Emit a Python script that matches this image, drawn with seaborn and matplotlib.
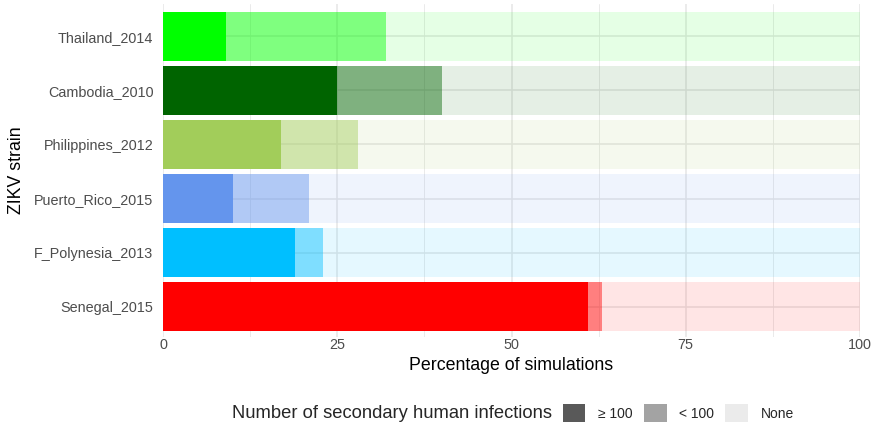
import matplotlib
matplotlib.use("Agg")
import matplotlib.pyplot as plt
import seaborn as sns
import pandas as pd
import numpy as np
from matplotlib.patches import Patch

strains = ["Thailand_2014", "Cambodia_2010", "Philippines_2012",
           "Puerto_Rico_2015", "F_Polynesia_2013", "Senegal_2015"]
pct_ge100 = [9, 25, 17, 10, 19, 61]
pct_lt100 = [23, 15, 11, 11, 4, 2]
pct_none = [68, 60, 72, 79, 77, 37]
strain_colors = ["#00FF00", "#006400", "#A2CD5A", "#6495ED", "#00BFFF", "#FF0000"]
legend_labels = ["\u2265 100", "< 100", "None"]
legend_colors = ["#595959", "#A3A3A3", "#EBEBEB"]
xticks = [0, 25, 50, 75, 100]

sns.set_theme(style="white")
plt.rcParams["font.family"] = ["Liberation Sans", "DejaVu Sans"]

df = pd.DataFrame({"strain": strains, "ge": pct_ge100, "lt": pct_lt100, "none": pct_none})
df["cum_lt"] = df["ge"] + df["lt"]
df["total"] = df["cum_lt"] + df["none"]
pal = dict(zip(strains, strain_colors))

fig = plt.figure(figsize=(8.74, 4.25), dpi=100)
top_px, bot_px = 4, 337
ax = fig.add_axes([163 / 874, 1 - bot_px / 425, (860 - 163) / 874, (bot_px - top_px) / 425])

common = dict(y="strain", hue="strain", palette=pal, order=strains, hue_order=strains,
              width=0.9, saturation=1, legend=False, linewidth=0, ax=ax, orient="h")
sns.barplot(data=df, x="total", alpha=0.1, **common)
sns.barplot(data=df, x="cum_lt", alpha=0.445, **common)
sns.barplot(data=df, x="ge", alpha=1.0, **common)

# bars span 12..331 px for 5.9 units
ppu = (331 - 12) / 5.9
ax.set_xlim(0, 100)
ax.set_ylim(5.45 + (bot_px - 331) / ppu, -0.45 - (12 - top_px) / ppu)
ax.set_xticks(xticks)
ax.set_xticklabels([str(t) for t in xticks])
ax.set_xticks([12.5, 37.5, 62.5, 87.5], minor=True)
ax.set_axisbelow(True)
ax.grid(True, which="major", axis="both", color="#E6E6E6", linewidth=1.1)
ax.grid(True, which="minor", axis="x", color="#E6E6E6", linewidth=0.6)
for s in ax.spines.values():
    s.set_visible(False)
ax.tick_params(axis="both", which="both", length=0, labelsize=10.4, labelcolor="#4D4D4D")
ax.tick_params(axis="x", pad=1.0)
ax.tick_params(axis="y", pad=7.0)
ax.set_xlabel("Percentage of simulations", fontsize=12.8, color="black")
ax.set_ylabel("ZIKV strain", fontsize=12.8, color="black")
ax.xaxis.label.set_va("center")
ax.xaxis.set_label_coords(0.5, -(365 - bot_px) / (bot_px - top_px))
ax.yaxis.label.set_va("center")
ax.yaxis.set_label_coords(-(163 - 16.5) / 697, 0.5)

fig.text(232 / 874, 1 - 413 / 425, "Number of secondary human infections",
         fontsize=13.2, va="center", ha="left")
handles = [Patch(facecolor=c, edgecolor="none") for c in legend_colors]
fig.legend(handles, legend_labels, loc="center left", bbox_to_anchor=(557 / 874, 1 - 413 / 425),
           ncol=3, frameon=False, fontsize=10, handlelength=1.65, handleheight=1.65,
           handletextpad=0.9, columnspacing=0.8, borderaxespad=0)

fig.savefig("out.png", dpi=100)
